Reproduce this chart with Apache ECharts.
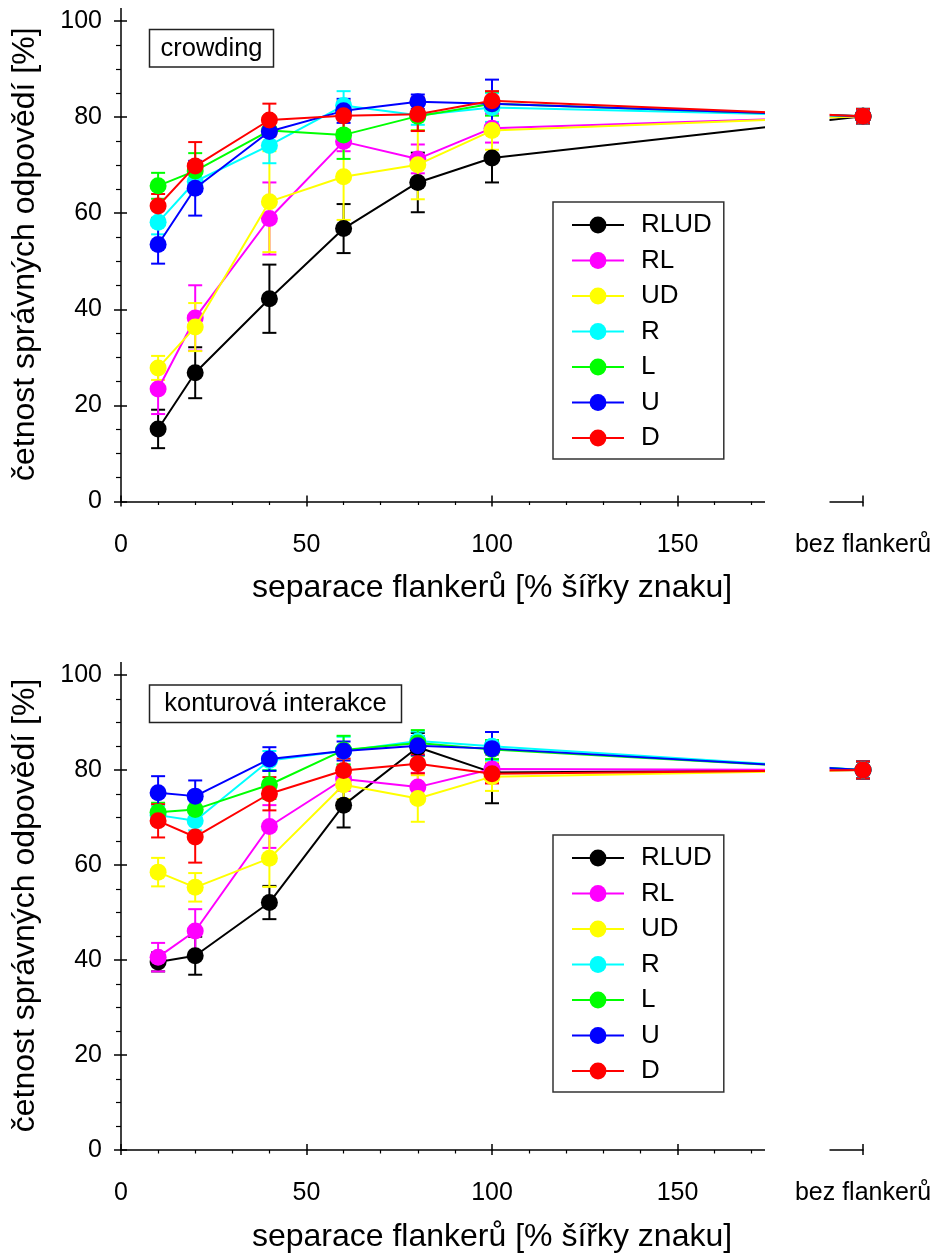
<!DOCTYPE html>
<html><head><meta charset="utf-8">
<script src="https://cdn.jsdelivr.net/npm/echarts@6/dist/echarts.min.js"></script>
<style>html,body{margin:0;padding:0;background:#fff}#c{width:942px;height:1254px}</style>
</head><body><div id="c"></div><script>
// ---- data ----
const xValues = [10, 20, 40, 60, 80, 100, 200];
const seriesNames = ['RLUD', 'RL', 'UD', 'R', 'L', 'U', 'D'];
const seriesColors = ['#000000', '#ff00ff', '#ffff00', '#00ffff', '#00ff00', '#0000ff', '#ff0000'];
const xTickLabels = { 0: '0', 50: '50', 100: '100', 150: '150', 200: 'bez flankerů' };
const panelTitles = ['crowding', 'konturová interakce'];
const xAxisTitle = 'separace flankerů [% šířky znaku]';
const yAxisTitle = 'četnost správných odpovědí [%]';

// crowding panel
const crowdRLUD = [15.1, 26.8, 42.2, 56.8, 66.4, 71.5, 80.2];
const crowdRLUDErr = [4.0, 5.3, 7.1, 5.1, 6.2, 5.1, 1.5];
const crowdRL = [23.4, 38.2, 58.9, 74.9, 71.3, 77.7, 80.2];
const crowdRLErr = [5.2, 6.8, 7.5, 2.0, 3.0, 3.0, 1.5];
const crowdUD = [27.8, 36.3, 62.4, 67.6, 70.1, 77.2, 80.2];
const crowdUDErr = [2.5, 5.0, 10.5, 9.0, 7.2, 4.0, 1.5];
const crowdR = [58.1, 66.6, 74.1, 82.4, 80.4, 82.0, 80.2];
const crowdRErr = [2.5, 2.0, 3.7, 3.0, 2.0, 3.0, 1.5];
const crowdL = [65.7, 68.8, 77.2, 76.3, 80.2, 82.8, 80.2];
const crowdLErr = [2.7, 3.7, 3.0, 5.0, 3.0, 2.5, 1.5];
const crowdU = [53.5, 65.2, 77.0, 81.3, 83.2, 82.8, 80.2];
const crowdUErr = [4.0, 5.7, 3.0, 2.5, 1.5, 5.0, 1.5];
const crowdD = [61.5, 69.8, 79.4, 80.3, 80.6, 83.4, 80.2];
const crowdDErr = [2.5, 5.0, 3.4, 3.0, 3.5, 2.0, 1.5];

// contour interaction panel
const contRLUD = [39.6, 40.9, 52.1, 72.6, 84.8, 79.5, 80.0];
const contRLUDErr = [2.0, 4.0, 3.5, 4.7, 3.0, 6.5, 1.8];
const contRL = [40.6, 46.1, 68.1, 78.1, 76.4, 80.2, 80.0];
const contRLErr = [3.0, 4.6, 4.5, 2.5, 3.0, 3.0, 1.8];
const contUD = [58.5, 55.3, 61.4, 76.9, 74.0, 78.6, 80.0];
const contUDErr = [3.0, 3.0, 6.0, 3.0, 4.9, 3.0, 1.8];
const contR = [70.5, 69.3, 82.0, 84.0, 86.1, 85.0, 80.0];
const contRErr = [2.0, 2.0, 2.0, 3.0, 2.0, 3.0, 1.8];
const contL = [71.1, 71.7, 76.9, 84.2, 85.7, 84.3, 80.0];
const contLErr = [2.0, 2.0, 3.0, 3.0, 2.7, 2.0, 1.8];
const contU = [75.2, 74.5, 82.3, 84.0, 85.1, 84.5, 80.0];
const contUErr = [3.5, 3.3, 2.5, 2.0, 2.0, 3.5, 1.8];
const contD = [69.3, 65.9, 75.0, 79.9, 81.3, 79.2, 80.0];
const contDErr = [3.5, 5.4, 3.5, 2.5, 2.0, 2.0, 1.8];

const panels = [
  { vals: [crowdRLUD, crowdRL, crowdUD, crowdR, crowdL, crowdU, crowdD],
    errs: [crowdRLUDErr, crowdRLErr, crowdUDErr, crowdRErr, crowdLErr, crowdUErr, crowdDErr] },
  { vals: [contRLUD, contRL, contUD, contR, contL, contU, contD],
    errs: [contRLUDErr, contRLErr, contUDErr, contRErr, contLErr, contUErr, contDErr] }
];

// ---- layout ----
const FONT = '"Liberation Sans", Arial, sans-serif';
const gridTops = [21, 675];
const gridH = 480.5;
const LEFT = 121, RIGHT = 79;
const legendTops = [202, 835];

const chart = echarts.init(document.getElementById('c'), null, { renderer: 'canvas' });

const grids = [], xAxes = [], yAxes = [], series = [], legends = [], graphics = [];

panels.forEach((p, g) => {
  grids.push({ left: LEFT, right: RIGHT, top: gridTops[g], height: gridH });
  xAxes.push({
    gridIndex: g, type: 'value', min: 0, max: 200, interval: 50, position: 'bottom',
    axisLine: { show: true, onZero: false, lineStyle: { color: '#000', width: 1.5 } },
    axisTick: { show: true, length: 5, lineStyle: { color: '#000', width: 1.5 } },
    minorTick: { show: true, splitNumber: 5, length: 3.5, lineStyle: { color: '#000', width: 1.2 } },
    splitLine: { show: false },
    axisLabel: { margin: 31, fontSize: 25, color: '#000', fontFamily: FONT,
      formatter: v => (xTickLabels[v] !== undefined ? xTickLabels[v] : '') },
    name: xAxisTitle, nameLocation: 'middle', nameGap: 71,
    nameTextStyle: { fontSize: 32, color: '#000', fontFamily: FONT }
  });
  xAxes.push({
    gridIndex: g, type: 'value', min: 0, max: 200, interval: 50, position: 'bottom',
    axisLine: { show: false, onZero: false },
    axisTick: { show: true, inside: true, length: 6, lineStyle: { color: '#000', width: 1.5 } },
    axisLabel: { show: false }, splitLine: { show: false }
  });
  yAxes.push({
    gridIndex: g, type: 'value', min: 0, max: 100, interval: 20, position: 'left',
    axisLine: { show: true, onZero: false, lineStyle: { color: '#000', width: 1.5 } },
    axisTick: { show: true, length: 7, lineStyle: { color: '#000', width: 1.5 } },
    minorTick: { show: true, splitNumber: 4, length: 5, lineStyle: { color: '#000', width: 1.2 } },
    splitLine: { show: false },
    axisLabel: { margin: 19, fontSize: 25, color: '#000', fontFamily: FONT },
    name: yAxisTitle, nameLocation: 'middle', nameGap: 80,
    nameTextStyle: { fontSize: 32, color: '#000', fontFamily: FONT, padding: [0, 0, 0, 14] }
  });
  yAxes.push({
    gridIndex: g, type: 'value', min: 0, max: 100, interval: 20, position: 'left',
    axisLine: { show: false, onZero: false },
    axisTick: { show: true, inside: true, length: 6, lineStyle: { color: '#000', width: 1.5 } },
    axisLabel: { show: false }, splitLine: { show: false }
  });

  const xi = g * 2, yi = g * 2;
  seriesNames.forEach((nm, s) => {
    const color = seriesColors[s];
    series.push({
      type: 'custom', name: nm + ' err' + g, xAxisIndex: xi, yAxisIndex: yi, z: 1,
      data: xValues.map((x, i) => [x, p.vals[s][i], p.errs[s][i]]),
      encode: { x: 0, y: 1 },
      renderItem: (params, api) => {
        const x = api.value(0), y = api.value(1), e = api.value(2);
        const t = api.coord([x, y + e]);
        const b = api.coord([x, y - e]);
        const w = 7;
        const st = { stroke: color, lineWidth: 2, fill: null };
        return { type: 'group', children: [
          { type: 'line', shape: { x1: t[0], y1: t[1], x2: b[0], y2: b[1] }, style: st },
          { type: 'line', shape: { x1: t[0] - w, y1: t[1], x2: t[0] + w, y2: t[1] }, style: st },
          { type: 'line', shape: { x1: b[0] - w, y1: b[1], x2: b[0] + w, y2: b[1] }, style: st }
        ] };
      }
    });
  });
  seriesNames.forEach((nm, s) => {
    series.push({
      type: 'line', name: nm, xAxisIndex: xi, yAxisIndex: yi, z: 2 + s * 0.01,
      data: xValues.map((x, i) => [x, p.vals[s][i]]),
      symbol: 'circle', symbolSize: 17, showSymbol: true,
      lineStyle: { color: seriesColors[s], width: 2 },
      itemStyle: { color: seriesColors[s] },
      emphasis: { disabled: true },
      animation: false
    });
  });

  legends.push({
    data: seriesNames, orient: 'vertical', left: 553, top: legendTops[g],
    itemWidth: 52, itemHeight: 21, itemGap: 9.5, padding: [10, 12, 8, 18],
    borderColor: '#333', borderWidth: 1.5, backgroundColor: '#fff',
    textStyle: { fontSize: 26, color: '#000', fontFamily: FONT, lineHeight: 26, padding: [0, 0, 0, 12] },
    selectedMode: false, itemStyle: { borderWidth: 0 }
  });

  const top = gridTops[g];
  graphics.push({ type: 'rect', z: 100, shape: { x: 765, y: top - 15, width: 64.5, height: gridH + 28 },
    style: { fill: '#fff' } });
  graphics.push({ type: 'line', z: 100, shape: { x1: LEFT, y1: top - 13, x2: LEFT, y2: top },
    style: { stroke: '#000', lineWidth: 1.5 } });
  const tw = g === 0 ? 124 : 252;
  const ty = g === 0 ? 29.5 : 685;
  graphics.push({ type: 'rect', z: 100, shape: { x: 149.5, y: ty, width: tw, height: 37.5 },
    style: { fill: '#fff', stroke: '#222', lineWidth: 1.5 } });
  graphics.push({ type: 'text', z: 101, x: 149.5 + tw / 2, y: ty + 19,
    style: { text: panelTitles[g], fontSize: 25.5, fontFamily: FONT, fill: '#000', align: 'center', verticalAlign: 'middle' } });
});

chart.setOption({
  backgroundColor: '#fff',
  animation: false,
  grid: grids, xAxis: xAxes, yAxis: yAxes, series: series, legend: legends,
  graphic: { elements: graphics }
});
</script></body></html>
